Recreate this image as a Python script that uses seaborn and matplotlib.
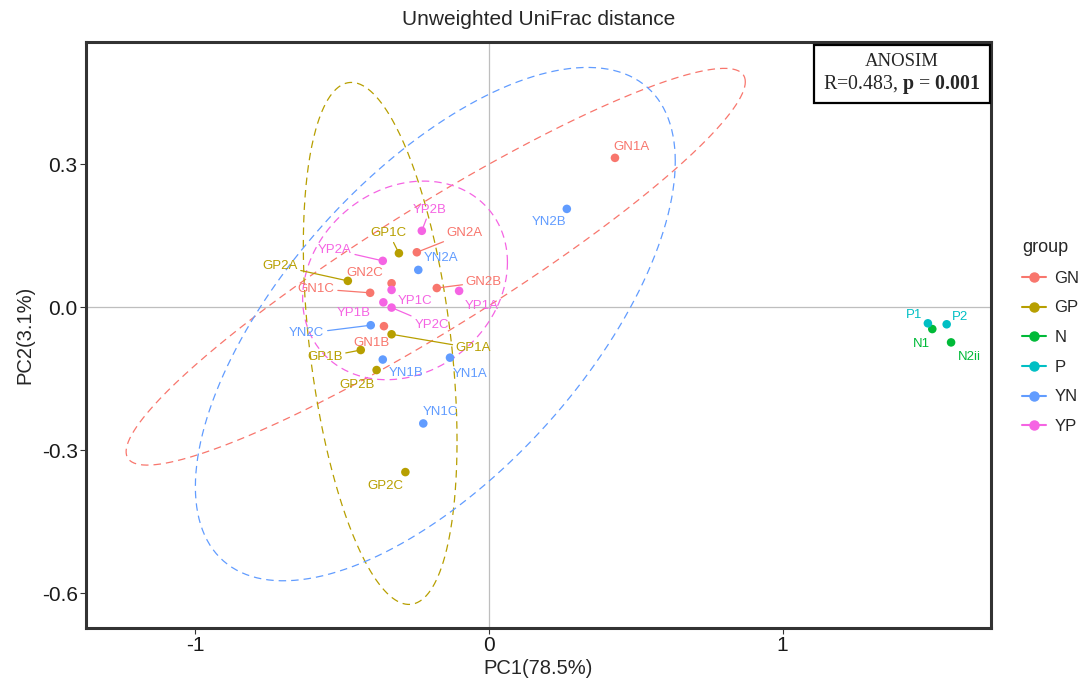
import numpy as np
import pandas as pd
import matplotlib
matplotlib.use("Agg")
import matplotlib.pyplot as plt
from matplotlib.lines import Line2D
from matplotlib.patches import Rectangle
import seaborn as sns

# ---------------- data ----------------
samples = ["GN1A", "GN1B", "GN1C", "GN2A", "GN2B", "GN2C",
           "GP1A", "GP1B", "GP1C", "GP2A", "GP2B", "GP2C",
           "N1", "N2ii", "P1", "P2",
           "YN1A", "YN1B", "YN1C", "YN2A", "YN2B", "YN2C",
           "YP1A", "YP1B", "YP1C", "YP2A", "YP2B", "YP2C"]
groups = ["GN"] * 6 + ["GP"] * 6 + ["N"] * 2 + ["P"] * 2 + ["YN"] * 6 + ["YP"] * 6
pc1 = [0.429, -0.358, -0.405, -0.246, -0.178, -0.332,
       -0.332, -0.437, -0.307, -0.481, -0.383, -0.285,
       1.510, 1.574, 1.495, 1.559,
       -0.133, -0.362, -0.224, -0.241, 0.265, -0.403,
       -0.102, -0.360, -0.332, -0.362, -0.229, -0.332]
pc2 = [0.313, -0.040, 0.030, 0.115, 0.040, 0.050,
       -0.057, -0.090, 0.113, 0.055, -0.132, -0.346,
       -0.046, -0.074, -0.034, -0.036,
       -0.106, -0.110, -0.244, 0.078, 0.206, -0.038,
       0.034, 0.010, 0.036, 0.097, 0.160, -0.001]
group_order = ["GN", "GP", "N", "P", "YN", "YP"]
palette = ["#F8766D", "#B79F00", "#00BA38", "#00BFC4", "#619CFF", "#F564E3"]
x_ticks = [-1, 0, 1]
x_ticklabels = ["-1", "0", "1"]
y_ticks = [0.3, 0.0, -0.3, -0.6]
y_ticklabels = ["0.3", "0.0", "-0.3", "-0.6"]
title = "Unweighted UniFrac distance"
xlabel = "PC1(78.5%)"
ylabel = "PC2(3.1%)"
anosim_R = "0.483"
anosim_p = "0.001"

# label placement (offset in pixels from the point) and segment flags
label_offsets = {
    "GN1A": (17, 11), "GN1B": (-12, -17), "GN1C": (-54, 4), "GN2A": (48, 19),
    "GN2B": (47, 6), "GN2C": (-27, 10),
    "GP1A": (82, -14), "GP1B": (-36, -7), "GP1C": (-10, 20), "GP2A": (-68, 15),
    "GP2B": (-20, -15), "GP2C": (-20, -14),
    "N1": (-11, -15), "N2ii": (18, -15), "P1": (-14, 8), "P2": (13, 7),
    "YN1A": (20, -16), "YN1B": (23, -13), "YN1C": (17, 11), "YN2A": (23, 12),
    "YN2B": (-18, -13), "YN2C": (-64, -8),
    "YP1A": (23, -15), "YP1B": (-30, -11), "YP1C": (23, -11), "YP2A": (-48, 11),
    "YP2B": (8, 21), "YP2C": (40, -17),
}
with_segment = {"GN1C", "GN2A", "GN2B", "GP1A", "GP1B", "GP1C", "GP2A",
                "YN2C", "YP2A", "YP2B", "YP2C"}

df = pd.DataFrame({"sample": samples, "group": groups, "PC1": pc1, "PC2": pc2})
colors = dict(zip(group_order, palette))

# ---------------- style ----------------
sns.set_theme(style="white")
plt.rcParams["font.family"] = ["Liberation Sans", "DejaVu Sans"]
plt.rcParams["mathtext.fontset"] = "custom"
plt.rcParams["mathtext.rm"] = "Liberation Serif"
plt.rcParams["mathtext.bf"] = "Liberation Serif:bold"

fig = plt.figure(figsize=(10.81, 6.88), dpi=100)
ax = fig.add_axes([86 / 1081, 1 - 628 / 688, (991 - 86) / 1081, (628 - 42) / 688])

ax.axhline(0, color="#BEBEBE", lw=0.9, zorder=1)
ax.axvline(0, color="#BEBEBE", lw=0.9, zorder=1)

# ellipses (normal-theory, level 0.95)
level = 0.95
t = np.linspace(0, 2 * np.pi, 361)
unit = np.column_stack([np.cos(t), np.sin(t)])
for g in group_order:
    sub = df[df.group == g][["PC1", "PC2"]].to_numpy()
    n = len(sub)
    if n < 3:
        continue
    dfd = n - 1
    fq = (dfd / 2.0) * ((1 - level) ** (-2.0 / dfd) - 1)
    radius = np.sqrt(2 * fq)
    loc = sub.mean(axis=0)
    cov = np.cov(sub, rowvar=False)
    R = np.linalg.cholesky(cov).T
    ell = loc + radius * unit @ R
    ax.plot(ell[:, 0], ell[:, 1], color=colors[g], lw=0.9, dashes=(6, 4), zorder=2)

sns.scatterplot(data=df, x="PC1", y="PC2", hue="group", hue_order=group_order,
                palette=palette, s=38, linewidth=0, ax=ax, legend=False, zorder=4)

for _, r in df.iterrows():
    dx, dy = label_offsets[r["sample"]]
    arrow = None
    if r["sample"] in with_segment:
        arrow = dict(arrowstyle="-", color=colors[r["group"]], lw=0.9,
                     shrinkA=0, shrinkB=2)
    ax.annotate(r["sample"], xy=(r["PC1"], r["PC2"]), xytext=(dx, dy),
                textcoords="offset pixels", ha="center", va="center",
                fontsize=9.5, color=colors[r["group"]], arrowprops=arrow, zorder=5)

ax.set_xlim(-1.373, 1.710)
ax.set_ylim(-0.673, 0.556)
ax.set_xticks(x_ticks)
ax.set_xticklabels(x_ticklabels)
ax.set_yticks(y_ticks)
ax.set_yticklabels(y_ticklabels)
ax.tick_params(axis="both", which="both", direction="out", length=4, width=0.8,
               color="#333333", labelsize=15, labelcolor="#1a1a1a",
               bottom=True, left=True, pad=2)
ax.set_xlabel(xlabel, fontsize=14.5, labelpad=3)
ax.set_ylabel(ylabel, fontsize=14.5, labelpad=5)
ax.set_title(title, fontsize=15, pad=12)
for sp in ax.spines.values():
    sp.set_color("#333333")
    sp.set_linewidth(2.2)
ax.grid(False)

# ANOSIM box
x0, x1 = (814 - 86) / 905, (990 - 86) / 905
y0, y1 = (628 - 103) / 586, (628 - 45) / 586
ax.add_patch(Rectangle((x0, y0), x1 - x0, y1 - y0, transform=ax.transAxes,
                       fc="white", ec="black", lw=1.6, zorder=6))
xc = (x0 + x1) / 2
ax.text(xc, (628 - 62) / 586, "ANOSIM", transform=ax.transAxes, ha="center",
        va="center", fontsize=13.5, family="Liberation Serif", zorder=7)
ax.text(xc, (628 - 85) / 586,
        "R=" + anosim_R + ", $\\mathbf{p}$ = $\\mathbf{" + anosim_p + "}$",
        transform=ax.transAxes, ha="center", va="center", fontsize=14.3,
        family="Liberation Serif", zorder=7)

# legend
handles = [Line2D([0], [0], color=c, lw=1.5, marker="o", markersize=6.5) for c in palette]
leg = fig.legend(handles, group_order, title="group", loc="upper left",
                 bbox_to_anchor=(1022 / 1081, 1 - 239 / 688), frameon=False,
                 fontsize=12, title_fontsize=13, handlelength=1.45,
                 labelspacing=0.88, handletextpad=0.5, borderaxespad=0,
                 borderpad=0)
leg._legend_box.align = "left"

fig.savefig("out.png", dpi=100)
